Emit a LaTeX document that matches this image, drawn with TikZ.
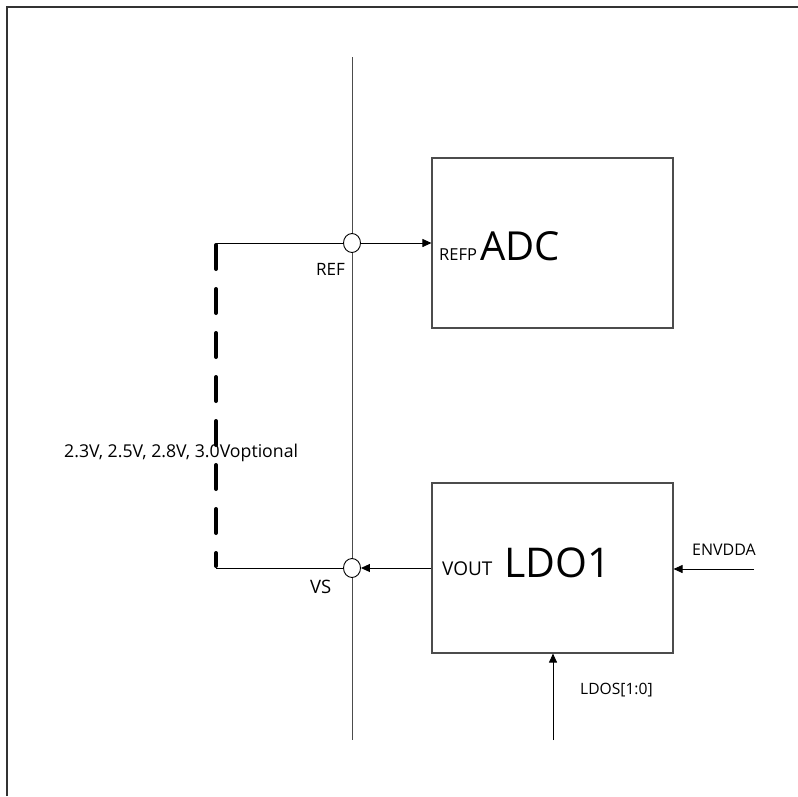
\documentclass[tikz,border=0pt]{standalone}
\usepackage{fontspec}
\setmainfont{Open Sans}
\usetikzlibrary{arrows.meta,shapes.geometric}
\begin{document}
\begin{tikzpicture}[x=1pt,y=-1pt,
  wire/.style={line width=0.9pt,black},
  arr/.style={wire,-{Triangle[length=9pt,width=8pt]}},
  blk/.style={draw=black!70,line width=1.1pt,minimum width=241pt,minimum height=170pt,inner sep=0pt},
  junc/.style={draw,line width=0.9pt,ellipse,minimum width=17pt,minimum height=19pt,inner sep=0pt,fill=white},
  lbl/.style={inner sep=0pt,anchor=base west}]
\useasboundingbox (0,0) rectangle (798,796);
\draw[line width=1.2pt,black!80] (7,796) -- (7,7) -- (798,7);
% bus
\coordinate (bt) at (352,57);
\coordinate (bb) at (352,740);
\draw[line width=0.9pt,black!70] (bt) -- (bb);
% blocks
\node[blk] (adc) at (552.5,243) {};
\node[blk] (ldo) at (552.5,568) {};
% junctions
\node[junc] (jr) at (352,243) {};
\node[junc] (jv) at (352,568) {};
% dashed option
\coordinate (dt) at (216,243);
\coordinate (db) at (216,568);
\draw[wire] (dt) -- (jr.west);
\draw[wire] (db) -- (jv.west);
\draw[line width=4pt,line cap=round,dash pattern=on 24pt off 20pt,dash phase=-2pt] (dt) -- ([yshift=2pt]db);
% arrows
\draw[arr] (jr.east) -- (adc.west);
\draw[arr] (ldo.west) -- (jv.east);
\coordinate (en) at (754,569);
\draw[arr] (en) -- (ldo.east |- en);
\coordinate (ls) at (553,740);
\draw[arr] (ls) -- (ldo.south -| ls);
% texts
\node[lbl,font=\fontsize{16.5}{16.5}\selectfont] (refp) at (439,260) {REFP};
\node[lbl,font=\fontsize{40}{40}\selectfont] (adct) at (480,260) {ADC};
\node[lbl,font=\fontsize{19}{19}\selectfont] (vout) at (442,575) {VOUT};
\node[lbl,font=\fontsize{41}{41}\selectfont] (ldot) at (504,577) {LDO1};
\node[lbl,font=\fontsize{16}{16}\selectfont] (envt) at (692,555) {ENVDDA};
\node[lbl,font=\fontsize{15.6}{15.6}\selectfont] (ldos) at (580,694) {LDOS[1:0]};
\node[lbl,font=\fontsize{17}{17}\selectfont] (reft) at (316,275) {REF};
\node[lbl,font=\fontsize{18.5}{18.5}\selectfont] (vst) at (310,593) {VS};
\node[lbl,font=\fontsize{17.7}{17.7}\selectfont] (volt) at (64,457) {2.3V, 2.5V, 2.8V, 3.0Voptional};
\end{tikzpicture}
\end{document}
